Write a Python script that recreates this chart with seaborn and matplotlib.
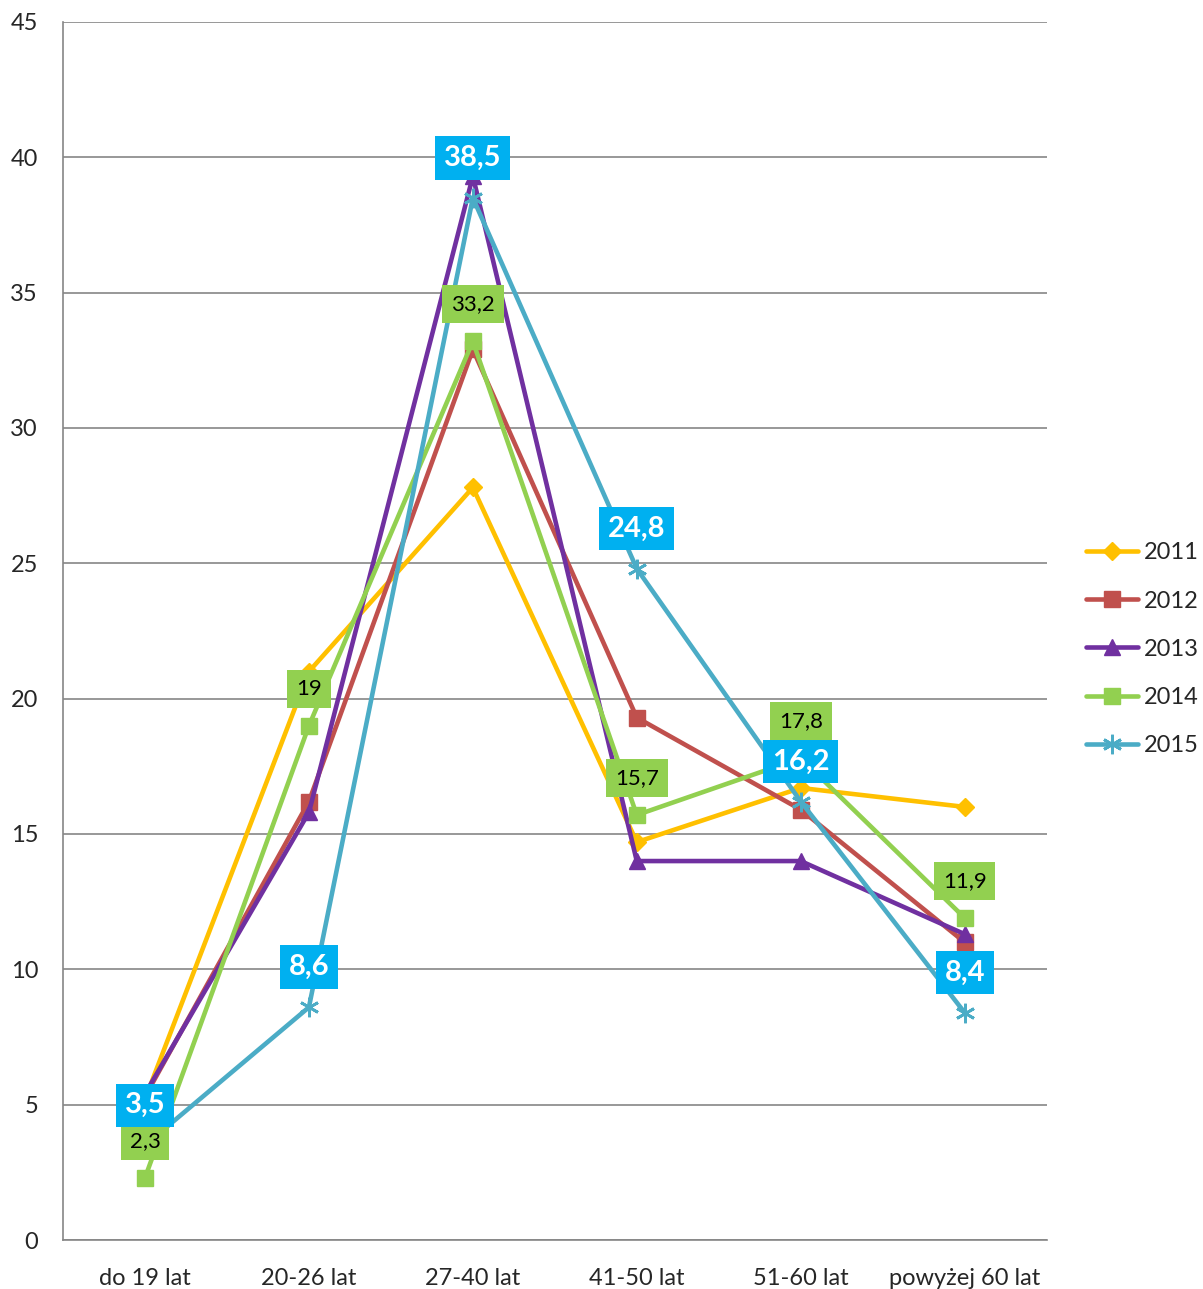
import seaborn as sns
import matplotlib.pyplot as plt
import pandas as pd

# dane: grupy wiekowe i udział procentowy w kolejnych latach
kategorie = ['do 19 lat', '20-26 lat', '27-40 lat', '41-50 lat', '51-60 lat', 'powyżej 60 lat']
lata = ['2011', '2012', '2013', '2014', '2015']
v2011 = [5.2, 21.0, 27.8, 14.7, 16.7, 16.0]
v2012 = [5.3, 16.2, 32.9, 19.3, 15.9, 11.0]
v2013 = [5.4, 15.8, 39.3, 14.0, 14.0, 11.3]
v2014 = [2.3, 19.0, 33.2, 15.7, 17.8, 11.9]
v2015 = [3.5, 8.6, 38.5, 24.8, 16.2, 8.4]
etykiety_2014 = ['2,3', '19', '33,2', '15,7', '17,8', '11,9']
etykiety_2015 = ['3,5', '8,6', '38,5', '24,8', '16,2', '8,4']

kolory = ['#FFC000', '#C0504D', '#7030A0', '#92D050', '#4BACC6']
markery = ['D', 's', '^', 's', (6, 2, 0)]
rozmiary = [9, 12, 12, 12, 14]

sns.set_style('white')
plt.rcParams['font.family'] = ['Lato', 'DejaVu Sans']

fig = plt.figure(figsize=(12.03, 12.89), dpi=100)
ax = fig.add_axes([0.0524, 0.038, 0.8176, 0.945])

serie = [v2011, v2012, v2013, v2014, v2015]
x = list(range(len(kategorie)))
for rok, vals, c, m, s in zip(lata, serie, kolory, markery, rozmiary):
    df = pd.DataFrame({'x': x, 'y': vals})
    sns.lineplot(data=df, x='x', y='y', ax=ax, color=c, linewidth=3.3,
                 marker=m, markersize=s, markeredgecolor=c, markeredgewidth=2 if rok == '2015' else 1,
                 label=rok)

# etykiety danych 2014
for xi, yi, t in zip(x, v2014, etykiety_2014):
    ax.annotate(t, (xi, yi), xytext=(0, 37), textcoords='offset pixels', ha='center', va='center',
                fontsize=16, color='black', zorder=5,
                bbox=dict(boxstyle='square,pad=0.4', fc='#92D050', ec='none'))
# etykiety danych 2015
for xi, yi, t in zip(x, v2015, etykiety_2015):
    ax.annotate(t, (xi, yi), xytext=(0, 40), textcoords='offset pixels', ha='center', va='center',
                fontsize=21, fontweight='bold', color='white', zorder=6,
                bbox=dict(boxstyle='square,pad=0.3', fc='#00B0F0', ec='none'))

ax.set_xlim(-0.5, 5.5)
ax.set_ylim(0, 45)
ax.set_yticks(range(0, 46, 5))
ax.set_xticks(x)
ax.set_xticklabels(kategorie)
ax.set_xlabel('')
ax.set_ylabel('')
ax.tick_params(axis='both', labelsize=17, length=0)
ax.tick_params(axis='x', pad=20)
ax.tick_params(axis='y', pad=18)
ax.yaxis.grid(True, color='#868686', linewidth=1.2)
ax.set_axisbelow(True)
for k in ['top', 'right']:
    ax.spines[k].set_visible(False)
for k in ['left', 'bottom']:
    ax.spines[k].set_color('#868686')
    ax.spines[k].set_linewidth(1.2)

ax.legend(loc='center left', bbox_to_anchor=(1.018, 0.485), frameon=False, fontsize=17,
          handlelength=2.2, labelspacing=1.15, handletextpad=0.25)

plt.savefig('out.png', dpi=100)
